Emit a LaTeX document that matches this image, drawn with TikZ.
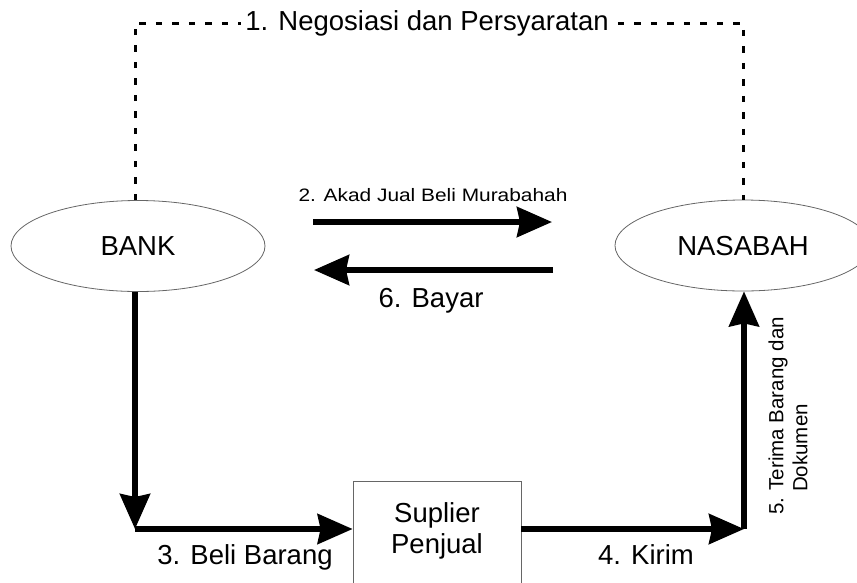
\documentclass[tikz,border=0pt]{standalone}
\usepackage{fontspec}
\setmainfont{Liberation Sans}
\usetikzlibrary{arrows.meta,shapes.geometric}
\begin{document}
\begin{tikzpicture}[x=1pt,y=-1pt,
  ell/.style={draw=black!60, line width=0.8pt, ellipse, inner sep=0pt,
    font=\fontsize{27.5}{30}\selectfont, text height=19.7pt, text depth=0pt},
  boxst/.style={draw=black!60, line width=0.8pt, inner sep=0pt},
  bigtxt/.style={font=\fontsize{27.5}{31}\selectfont, inner sep=0pt, text height=19.7pt, text depth=0pt},
  midtxt/.style={font=\fontsize{20.5}{23}\selectfont, inner sep=0pt, text height=14.7pt, text depth=0pt},
  smalltxt/.style={font=\fontsize{18}{20}\selectfont, inner sep=0pt, text height=12.9pt, text depth=0pt, xscale=1.16},
  arr/.style={line width=5.5pt, -{Stealth[length=35pt,width=30pt,inset=3pt]}},
  dashline/.style={line width=3pt, dash pattern=on 6.5pt off 10pt}
]
\useasboundingbox (0,0) rectangle (857,582);
\clip (0,0) rectangle (857,582);

% nodes
\node[ell, minimum width=254pt, minimum height=91pt] (bank) at (138,246) {BANK};
\node[ell, minimum width=256pt, minimum height=91pt] (nas) at (743,245.5) {NASABAH};
\node[boxst, minimum width=168pt, minimum height=115pt, anchor=north] (sup) at (437,481) {};
\node[align=center, inner sep=0pt, font=\fontsize{27.5}{31}\selectfont] (suptxt) at (437,531) {Suplier\\Penjual};

% coordinates
\coordinate (dl) at (135,23);
\coordinate (dr) at (743,23);
\coordinate (c3) at (135,529);
\coordinate (c4) at (744,529);
\coordinate (a2s) at (313,222);
\coordinate (a2e) at (552,222);
\coordinate (a6s) at (553,270);
\coordinate (a6e) at (314,270);

% 1. dashed negotiation line
\draw[dashline] (dl |- bank.north) -- (dl) -- (dr) -- (dr |- nas.north);
\node[bigtxt, fill=white, inner xsep=4pt, inner ysep=3pt] (l1) at (427,21) {1. Negosiasi dan Persyaratan};

% 2 and 6
\draw[arr] (a2s) -- (a2e);
\node[smalltxt] (l2) at (433,195) {2. Akad Jual Beli Murabahah};
\draw[arr] (a6s) -- (a6e);
\node[bigtxt] (l6) at (431,297.5) {6. Bayar};

% 3
\draw[arr] (c3 |- bank.south) -- (c3);
\draw[arr] (c3) -- (c3 -| sup.west);
\node[bigtxt] (l3) at (245,555) {3. Beli Barang};

% 4
\draw[arr] (c4 -| sup.east) -- (c4);
\node[bigtxt] (l4) at (646,555) {4. Kirim};

% 5
\draw[arr] (c4) -- (c4 |- nas.south);
\node[midtxt, rotate=90] (l5a) at (776,416) {5. Terima Barang dan};
\node[midtxt, rotate=90] (l5b) at (800,448) {Dokumen};
\end{tikzpicture}
\end{document}
